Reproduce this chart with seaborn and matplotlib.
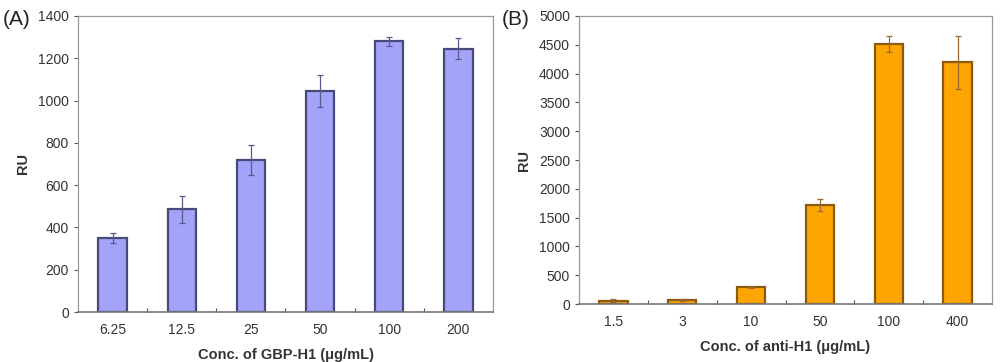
import matplotlib
matplotlib.use("Agg")
import matplotlib.pyplot as plt
import seaborn as sns
import pandas as pd
import numpy as np

# panel A
conc_a = ["6.25", "12.5", "25", "50", "100", "200"]
ru_a = [350, 485, 720, 1045, 1280, 1245]
err_a = [25, 65, 70, 75, 20, 50]

# panel B
conc_b = ["1.5", "3", "10", "50", "100", "400"]
ru_b = [55, 75, 295, 1720, 4520, 4200]
err_b = [25, 15, 10, 110, 140, 460]

sns.set_theme(style="white")
plt.rcParams['font.family'] = ['Liberation Sans', 'DejaVu Sans']

fig = plt.figure(figsize=(10, 3.62), dpi=100)
ax1 = fig.add_axes([0.078, 0.138, 0.415, 0.818])
ax2 = fig.add_axes([0.579, 0.160, 0.413, 0.796])


def draw(ax, cats, vals, errs, fill, edge, ecol, ymax, step, xlabel):
    df = pd.DataFrame({"conc": cats, "RU": vals})
    sns.barplot(data=df, x="conc", y="RU", color=fill, saturation=1,
                width=0.41, edgecolor=edge, linewidth=1.6, errorbar=None, ax=ax)
    ax.errorbar(np.arange(len(cats)), vals, yerr=errs, fmt="none",
                ecolor=ecol, elinewidth=0.9, capsize=2, capthick=0.9)
    ax.set_ylim(0, ymax)
    ax.set_xlim(-0.5, len(cats) - 0.5)
    ax.set_yticks(np.arange(0, ymax + 1, step))
    ax.set_xticks(np.arange(len(cats)))
    ax.set_xticklabels(cats)
    # boundary ticks between categories
    ax.set_xticks(np.arange(0.5, len(cats) - 1, 1), minor=True)
    ax.tick_params(axis="x", which="major", length=0, pad=8, labelsize=10, colors="#333333")
    ax.tick_params(axis="x", which="minor", direction="in", length=3, width=0.8, color="#555555", bottom=True)
    ax.tick_params(axis="y", direction="out", length=3, width=0.8, color="#555555",
                   left=True, labelsize=10, colors="#333333")
    for s in ax.spines.values():
        s.set_color("#999999")
        s.set_linewidth(0.9)
    ax.spines["bottom"].set_color("#777777")
    ax.spines["bottom"].set_linewidth(1.2)
    ax.set_xlabel(xlabel, fontsize=10.5, fontweight="bold", color="#333333", labelpad=8)
    ax.set_ylabel("RU", fontsize=10.5, fontweight="bold", color="#333333", labelpad=6)


draw(ax1, conc_a, ru_a, err_a, "#a3a3fa", "#4a4a7a", "#5a5a8a", 1400, 200,
     "Conc. of GBP-H1 (μg/mL)")
draw(ax2, conc_b, ru_b, err_b, "#ffa500", "#8a5a10", "#9a6a30", 5000, 500,
     "Conc. of anti-H1 (μg/mL)")

fig.text(0.003, 0.945, "(A)", fontsize=15, color="#222222", va="center", ha="left")
fig.text(0.502, 0.945, "(B)", fontsize=15, color="#222222", va="center", ha="left")

fig.savefig("out.png", dpi=100)
